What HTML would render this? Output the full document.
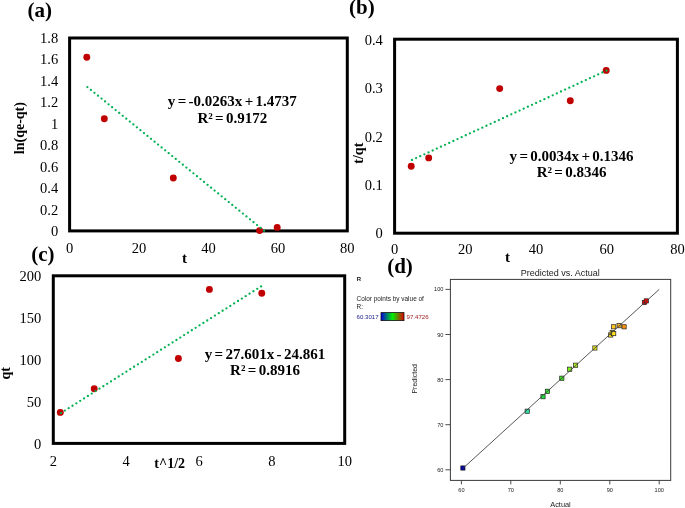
<!DOCTYPE html>
<html><head><meta charset="utf-8"><title>Kinetic plots</title>
<style>
html,body{margin:0;padding:0;background:#fff;}
body{width:685px;height:508px;overflow:hidden;}
svg{display:block;will-change:transform;filter:blur(0.35px);}
.s{font-family:"Liberation Serif","Times New Roman",serif;}
.n{font-family:"Liberation Sans",Arial,sans-serif;}
.b{font-weight:bold;}
.e{word-spacing:-1.4px;}
</style></head><body>
<svg width="685" height="508" viewBox="0 0 685 508">
<rect width="685" height="508" fill="#fff"/>
<!-- chart a -->
<g>
<rect x="69.6" y="38.0" width="277.7" height="192.9" fill="none" stroke="#000" stroke-width="3"/>
<text class="s" x="69.6" y="252.6" font-size="14.5" text-anchor="middle" fill="#000">0</text>
<text class="s" x="139.0" y="252.6" font-size="14.5" text-anchor="middle" fill="#000">20</text>
<text class="s" x="208.5" y="252.6" font-size="14.5" text-anchor="middle" fill="#000">40</text>
<text class="s" x="277.9" y="252.6" font-size="14.5" text-anchor="middle" fill="#000">60</text>
<text class="s" x="347.3" y="252.6" font-size="14.5" text-anchor="middle" fill="#000">80</text>
<text class="s" x="58.2" y="236.2" font-size="14.5" text-anchor="end" fill="#000">0</text>
<text class="s" x="58.2" y="214.7" font-size="14.5" text-anchor="end" fill="#000">0.2</text>
<text class="s" x="58.2" y="193.2" font-size="14.5" text-anchor="end" fill="#000">0.4</text>
<text class="s" x="58.2" y="171.8" font-size="14.5" text-anchor="end" fill="#000">0.6</text>
<text class="s" x="58.2" y="150.3" font-size="14.5" text-anchor="end" fill="#000">0.8</text>
<text class="s" x="58.2" y="128.8" font-size="14.5" text-anchor="end" fill="#000">1</text>
<text class="s" x="58.2" y="107.3" font-size="14.5" text-anchor="end" fill="#000">1.2</text>
<text class="s" x="58.2" y="85.9" font-size="14.5" text-anchor="end" fill="#000">1.4</text>
<text class="s" x="58.2" y="64.4" font-size="14.5" text-anchor="end" fill="#000">1.6</text>
<text class="s" x="58.2" y="42.9" font-size="14.5" text-anchor="end" fill="#000">1.8</text>
<circle cx="86.8" cy="57.2" r="3.45" fill="#c00000"/>
<circle cx="104.3" cy="118.7" r="3.45" fill="#c00000"/>
<circle cx="173.3" cy="178.0" r="3.45" fill="#c00000"/>
<circle cx="259.6" cy="230.6" r="3.45" fill="#c00000"/>
<circle cx="277.2" cy="227.4" r="3.45" fill="#c00000"/>
<g fill="#00b050"><circle cx="87.40" cy="87.10" r="1.15"/><circle cx="90.93" cy="89.97" r="1.15"/><circle cx="94.47" cy="92.85" r="1.15"/><circle cx="98.00" cy="95.72" r="1.15"/><circle cx="101.54" cy="98.60" r="1.15"/><circle cx="105.07" cy="101.47" r="1.15"/><circle cx="108.60" cy="104.34" r="1.15"/><circle cx="112.14" cy="107.22" r="1.15"/><circle cx="115.67" cy="110.09" r="1.15"/><circle cx="119.21" cy="112.97" r="1.15"/><circle cx="122.74" cy="115.84" r="1.15"/><circle cx="126.27" cy="118.71" r="1.15"/><circle cx="129.81" cy="121.59" r="1.15"/><circle cx="133.34" cy="124.46" r="1.15"/><circle cx="136.88" cy="127.34" r="1.15"/><circle cx="140.41" cy="130.21" r="1.15"/><circle cx="143.94" cy="133.08" r="1.15"/><circle cx="147.48" cy="135.96" r="1.15"/><circle cx="151.01" cy="138.83" r="1.15"/><circle cx="154.55" cy="141.71" r="1.15"/><circle cx="158.08" cy="144.58" r="1.15"/><circle cx="161.61" cy="147.45" r="1.15"/><circle cx="165.15" cy="150.33" r="1.15"/><circle cx="168.68" cy="153.20" r="1.15"/><circle cx="172.22" cy="156.08" r="1.15"/><circle cx="175.75" cy="158.95" r="1.15"/><circle cx="179.28" cy="161.82" r="1.15"/><circle cx="182.82" cy="164.70" r="1.15"/><circle cx="186.35" cy="167.57" r="1.15"/><circle cx="189.89" cy="170.45" r="1.15"/><circle cx="193.42" cy="173.32" r="1.15"/><circle cx="196.95" cy="176.19" r="1.15"/><circle cx="200.49" cy="179.07" r="1.15"/><circle cx="204.02" cy="181.94" r="1.15"/><circle cx="207.56" cy="184.82" r="1.15"/><circle cx="211.09" cy="187.69" r="1.15"/><circle cx="214.62" cy="190.56" r="1.15"/><circle cx="218.16" cy="193.44" r="1.15"/><circle cx="221.69" cy="196.31" r="1.15"/><circle cx="225.23" cy="199.19" r="1.15"/><circle cx="228.76" cy="202.06" r="1.15"/><circle cx="232.29" cy="204.93" r="1.15"/><circle cx="235.83" cy="207.81" r="1.15"/><circle cx="239.36" cy="210.68" r="1.15"/><circle cx="242.90" cy="213.56" r="1.15"/><circle cx="246.43" cy="216.43" r="1.15"/><circle cx="249.96" cy="219.30" r="1.15"/><circle cx="253.50" cy="222.18" r="1.15"/><circle cx="257.03" cy="225.05" r="1.15"/><circle cx="260.57" cy="227.93" r="1.15"/><circle cx="264.10" cy="230.80" r="1.15"/></g>
</g>
<!-- chart b -->
<g>
<rect x="394.6" y="39.2" width="282.8" height="194.0" fill="none" stroke="#000" stroke-width="3"/>
<text class="s" x="394.6" y="254.4" font-size="14.5" text-anchor="middle" fill="#000">0</text>
<text class="s" x="465.3" y="254.4" font-size="14.5" text-anchor="middle" fill="#000">20</text>
<text class="s" x="536.0" y="254.4" font-size="14.5" text-anchor="middle" fill="#000">40</text>
<text class="s" x="606.7" y="254.4" font-size="14.5" text-anchor="middle" fill="#000">60</text>
<text class="s" x="677.4" y="254.4" font-size="14.5" text-anchor="middle" fill="#000">80</text>
<text class="s" x="382.8" y="238.4" font-size="14.5" text-anchor="end" fill="#000">0</text>
<text class="s" x="382.8" y="190.0" font-size="14.5" text-anchor="end" fill="#000">0.1</text>
<text class="s" x="382.8" y="141.7" font-size="14.5" text-anchor="end" fill="#000">0.2</text>
<text class="s" x="382.8" y="93.3" font-size="14.5" text-anchor="end" fill="#000">0.3</text>
<text class="s" x="382.8" y="44.9" font-size="14.5" text-anchor="end" fill="#000">0.4</text>
<circle cx="411.2" cy="166.2" r="3.45" fill="#c00000"/>
<circle cx="428.7" cy="157.9" r="3.45" fill="#c00000"/>
<circle cx="499.7" cy="88.6" r="3.45" fill="#c00000"/>
<circle cx="570.3" cy="100.7" r="3.45" fill="#c00000"/>
<circle cx="606.2" cy="70.4" r="3.45" fill="#c00000"/>
<g fill="#00b050"><circle cx="411.96" cy="160.00" r="1.15"/><circle cx="416.10" cy="158.10" r="1.15"/><circle cx="420.24" cy="156.20" r="1.15"/><circle cx="424.38" cy="154.29" r="1.15"/><circle cx="428.52" cy="152.39" r="1.15"/><circle cx="432.66" cy="150.49" r="1.15"/><circle cx="436.79" cy="148.59" r="1.15"/><circle cx="440.93" cy="146.69" r="1.15"/><circle cx="445.07" cy="144.78" r="1.15"/><circle cx="449.21" cy="142.88" r="1.15"/><circle cx="453.35" cy="140.98" r="1.15"/><circle cx="457.49" cy="139.08" r="1.15"/><circle cx="461.63" cy="137.17" r="1.15"/><circle cx="465.77" cy="135.27" r="1.15"/><circle cx="469.91" cy="133.37" r="1.15"/><circle cx="474.05" cy="131.47" r="1.15"/><circle cx="478.19" cy="129.57" r="1.15"/><circle cx="482.33" cy="127.66" r="1.15"/><circle cx="486.46" cy="125.76" r="1.15"/><circle cx="490.60" cy="123.86" r="1.15"/><circle cx="494.74" cy="121.96" r="1.15"/><circle cx="498.88" cy="120.06" r="1.15"/><circle cx="503.02" cy="118.15" r="1.15"/><circle cx="507.16" cy="116.25" r="1.15"/><circle cx="511.30" cy="114.35" r="1.15"/><circle cx="515.44" cy="112.45" r="1.15"/><circle cx="519.58" cy="110.54" r="1.15"/><circle cx="523.72" cy="108.64" r="1.15"/><circle cx="527.86" cy="106.74" r="1.15"/><circle cx="532.00" cy="104.84" r="1.15"/><circle cx="536.13" cy="102.94" r="1.15"/><circle cx="540.27" cy="101.03" r="1.15"/><circle cx="544.41" cy="99.13" r="1.15"/><circle cx="548.55" cy="97.23" r="1.15"/><circle cx="552.69" cy="95.33" r="1.15"/><circle cx="556.83" cy="93.43" r="1.15"/><circle cx="560.97" cy="91.52" r="1.15"/><circle cx="565.11" cy="89.62" r="1.15"/><circle cx="569.25" cy="87.72" r="1.15"/><circle cx="573.39" cy="85.82" r="1.15"/><circle cx="577.53" cy="83.91" r="1.15"/><circle cx="581.67" cy="82.01" r="1.15"/><circle cx="585.80" cy="80.11" r="1.15"/><circle cx="589.94" cy="78.21" r="1.15"/><circle cx="594.08" cy="76.31" r="1.15"/><circle cx="598.22" cy="74.40" r="1.15"/><circle cx="602.36" cy="72.50" r="1.15"/><circle cx="606.50" cy="70.60" r="1.15"/></g>
</g>
<!-- chart c -->
<g>
<rect x="53.3" y="275.8" width="291.4" height="167.6" fill="none" stroke="#000" stroke-width="3"/>
<text class="s" x="53.3" y="465.8" font-size="14.5" text-anchor="middle" fill="#000">2</text>
<text class="s" x="126.1" y="465.8" font-size="14.5" text-anchor="middle" fill="#000">4</text>
<text class="s" x="199.0" y="465.8" font-size="14.5" text-anchor="middle" fill="#000">6</text>
<text class="s" x="271.8" y="465.8" font-size="14.5" text-anchor="middle" fill="#000">8</text>
<text class="s" x="344.7" y="465.8" font-size="14.5" text-anchor="middle" fill="#000">10</text>
<text class="s" x="41.2" y="449.3" font-size="14.5" text-anchor="end" fill="#000">0</text>
<text class="s" x="41.2" y="407.1" font-size="14.5" text-anchor="end" fill="#000">50</text>
<text class="s" x="41.2" y="365.0" font-size="14.5" text-anchor="end" fill="#000">100</text>
<text class="s" x="41.2" y="322.8" font-size="14.5" text-anchor="end" fill="#000">150</text>
<text class="s" x="41.2" y="280.7" font-size="14.5" text-anchor="end" fill="#000">200</text>
<circle cx="60.3" cy="412.4" r="3.45" fill="#c00000"/>
<circle cx="94.2" cy="388.7" r="3.45" fill="#c00000"/>
<circle cx="178.4" cy="358.5" r="3.45" fill="#c00000"/>
<circle cx="209.4" cy="289.4" r="3.45" fill="#c00000"/>
<circle cx="261.8" cy="293.3" r="3.45" fill="#c00000"/>
<g fill="#00b050"><circle cx="60.96" cy="413.04" r="1.15"/><circle cx="64.81" cy="410.60" r="1.15"/><circle cx="68.66" cy="408.17" r="1.15"/><circle cx="72.51" cy="405.73" r="1.15"/><circle cx="76.36" cy="403.30" r="1.15"/><circle cx="80.20" cy="400.86" r="1.15"/><circle cx="84.05" cy="398.43" r="1.15"/><circle cx="87.90" cy="395.99" r="1.15"/><circle cx="91.75" cy="393.56" r="1.15"/><circle cx="95.60" cy="391.12" r="1.15"/><circle cx="99.45" cy="388.69" r="1.15"/><circle cx="103.30" cy="386.25" r="1.15"/><circle cx="107.15" cy="383.82" r="1.15"/><circle cx="111.00" cy="381.38" r="1.15"/><circle cx="114.84" cy="378.94" r="1.15"/><circle cx="118.69" cy="376.51" r="1.15"/><circle cx="122.54" cy="374.07" r="1.15"/><circle cx="126.39" cy="371.64" r="1.15"/><circle cx="130.24" cy="369.20" r="1.15"/><circle cx="134.09" cy="366.77" r="1.15"/><circle cx="137.94" cy="364.33" r="1.15"/><circle cx="141.79" cy="361.90" r="1.15"/><circle cx="145.63" cy="359.46" r="1.15"/><circle cx="149.48" cy="357.03" r="1.15"/><circle cx="153.33" cy="354.59" r="1.15"/><circle cx="157.18" cy="352.16" r="1.15"/><circle cx="161.03" cy="349.72" r="1.15"/><circle cx="164.88" cy="347.28" r="1.15"/><circle cx="168.73" cy="344.85" r="1.15"/><circle cx="172.58" cy="342.41" r="1.15"/><circle cx="176.43" cy="339.98" r="1.15"/><circle cx="180.27" cy="337.54" r="1.15"/><circle cx="184.12" cy="335.11" r="1.15"/><circle cx="187.97" cy="332.67" r="1.15"/><circle cx="191.82" cy="330.24" r="1.15"/><circle cx="195.67" cy="327.80" r="1.15"/><circle cx="199.52" cy="325.37" r="1.15"/><circle cx="203.37" cy="322.93" r="1.15"/><circle cx="207.22" cy="320.50" r="1.15"/><circle cx="211.07" cy="318.06" r="1.15"/><circle cx="214.91" cy="315.62" r="1.15"/><circle cx="218.76" cy="313.19" r="1.15"/><circle cx="222.61" cy="310.75" r="1.15"/><circle cx="226.46" cy="308.32" r="1.15"/><circle cx="230.31" cy="305.88" r="1.15"/><circle cx="234.16" cy="303.45" r="1.15"/><circle cx="238.01" cy="301.01" r="1.15"/><circle cx="241.86" cy="298.58" r="1.15"/><circle cx="245.70" cy="296.14" r="1.15"/><circle cx="249.55" cy="293.71" r="1.15"/><circle cx="253.40" cy="291.27" r="1.15"/><circle cx="257.25" cy="288.84" r="1.15"/><circle cx="261.10" cy="286.40" r="1.15"/></g>
</g>
<text class="s b" x="27.5" y="16.6" font-size="21" text-anchor="start" fill="#000">(a)</text>
<text class="s b" x="349.0" y="14.4" font-size="21" text-anchor="start" fill="#000">(b)</text>
<text class="s b" x="31.2" y="260.8" font-size="21" text-anchor="start" fill="#000">(c)</text>
<text class="s b" x="387.2" y="273.0" font-size="21" text-anchor="start" fill="#000">(d)</text>
<text class="s b e" x="232.3" y="106.4" font-size="15" text-anchor="middle" fill="#000">y = -0.0263x + 1.4737</text>
<text class="s b e" x="232.3" y="122.7" font-size="15" text-anchor="middle" fill="#000">R² = 0.9172</text>
<text class="s b e" x="571.6" y="160.9" font-size="15" text-anchor="middle" fill="#000">y = 0.0034x + 0.1346</text>
<text class="s b e" x="571.6" y="177.2" font-size="15" text-anchor="middle" fill="#000">R² = 0.8346</text>
<text class="s b e" x="265.0" y="359.4" font-size="15" text-anchor="middle" fill="#000">y = 27.601x - 24.861</text>
<text class="s b e" x="265.0" y="375.2" font-size="15" text-anchor="middle" fill="#000">R² = 0.8916</text>
<text class="s b" font-size="14" text-anchor="middle" transform="translate(24.2 128.1) rotate(-90)">ln(qe-qt)</text>
<text class="s b" font-size="14" text-anchor="middle" transform="translate(362.7 153.2) rotate(-90)">t/qt</text>
<text class="s b" font-size="14" text-anchor="middle" transform="translate(10.2 373.3) rotate(-90)">qt</text>
<text class="s b" x="184.5" y="262.7" font-size="15" text-anchor="middle" fill="#000">t</text>
<text class="s b" x="507.4" y="262.2" font-size="15" text-anchor="middle" fill="#000">t</text>
<text class="s b" x="169.7" y="468.4" font-size="14" text-anchor="middle" fill="#000">t^1/2</text>
<!-- chart d -->
<g>
<rect x="450.4" y="279.4" width="220.3" height="201.0" fill="none" stroke="#3a3a3a" stroke-width="1"/>
<line x1="461.4" y1="480.4" x2="461.4" y2="484.4" stroke="#3a3a3a" stroke-width="0.9"/>
<text class="n" x="461.4" y="492.3" font-size="5.6" text-anchor="middle" fill="#222">60</text>
<line x1="445.4" y1="469.8" x2="450.4" y2="469.8" stroke="#3a3a3a" stroke-width="0.9"/>
<text class="n" x="443.4" y="471.8" font-size="5.6" text-anchor="end" fill="#222">60</text>
<line x1="510.8" y1="480.4" x2="510.8" y2="484.4" stroke="#3a3a3a" stroke-width="0.9"/>
<text class="n" x="510.8" y="492.3" font-size="5.6" text-anchor="middle" fill="#222">70</text>
<line x1="445.4" y1="424.7" x2="450.4" y2="424.7" stroke="#3a3a3a" stroke-width="0.9"/>
<text class="n" x="443.4" y="426.7" font-size="5.6" text-anchor="end" fill="#222">70</text>
<line x1="560.3" y1="480.4" x2="560.3" y2="484.4" stroke="#3a3a3a" stroke-width="0.9"/>
<text class="n" x="560.3" y="492.3" font-size="5.6" text-anchor="middle" fill="#222">80</text>
<line x1="445.4" y1="379.6" x2="450.4" y2="379.6" stroke="#3a3a3a" stroke-width="0.9"/>
<text class="n" x="443.4" y="381.6" font-size="5.6" text-anchor="end" fill="#222">80</text>
<line x1="609.8" y1="480.4" x2="609.8" y2="484.4" stroke="#3a3a3a" stroke-width="0.9"/>
<text class="n" x="609.8" y="492.3" font-size="5.6" text-anchor="middle" fill="#222">90</text>
<line x1="445.4" y1="334.5" x2="450.4" y2="334.5" stroke="#3a3a3a" stroke-width="0.9"/>
<text class="n" x="443.4" y="336.5" font-size="5.6" text-anchor="end" fill="#222">90</text>
<line x1="659.2" y1="480.4" x2="659.2" y2="484.4" stroke="#3a3a3a" stroke-width="0.9"/>
<text class="n" x="659.2" y="492.3" font-size="5.6" text-anchor="middle" fill="#222">100</text>
<line x1="445.4" y1="289.4" x2="450.4" y2="289.4" stroke="#3a3a3a" stroke-width="0.9"/>
<text class="n" x="443.4" y="291.4" font-size="5.6" text-anchor="end" fill="#222">100</text>
<rect x="460.8" y="465.9" width="4.2" height="4.2" fill="#0000a8" stroke="#222" stroke-width="0.7"/>
<rect x="525.1" y="409.1" width="4.2" height="4.2" fill="#30e0a0" stroke="#222" stroke-width="0.7"/>
<rect x="540.9" y="394.6" width="4.2" height="4.2" fill="#20e040" stroke="#222" stroke-width="0.7"/>
<rect x="545.3" y="389.2" width="4.2" height="4.2" fill="#30e830" stroke="#222" stroke-width="0.7"/>
<rect x="559.7" y="376.1" width="4.2" height="4.2" fill="#40e020" stroke="#222" stroke-width="0.7"/>
<rect x="567.6" y="367.1" width="4.2" height="4.2" fill="#80f020" stroke="#222" stroke-width="0.7"/>
<rect x="573.5" y="363.1" width="4.2" height="4.2" fill="#b0f020" stroke="#222" stroke-width="0.7"/>
<rect x="592.8" y="345.9" width="4.2" height="4.2" fill="#f0f020" stroke="#222" stroke-width="0.7"/>
<rect x="608.6" y="332.9" width="4.2" height="4.2" fill="#ffe820" stroke="#222" stroke-width="0.7"/>
<rect x="610.1" y="330.6" width="4.2" height="4.2" fill="#ffe820" stroke="#222" stroke-width="0.7"/>
<rect x="611.6" y="331.5" width="4.2" height="4.2" fill="#ffe020" stroke="#222" stroke-width="0.7"/>
<rect x="611.6" y="324.7" width="4.2" height="4.2" fill="#ffc820" stroke="#222" stroke-width="0.7"/>
<rect x="617.0" y="323.6" width="4.2" height="4.2" fill="#f0b020" stroke="#222" stroke-width="0.7"/>
<rect x="622.0" y="324.7" width="4.2" height="4.2" fill="#ff9010" stroke="#222" stroke-width="0.7"/>
<rect x="642.3" y="300.4" width="4.2" height="4.2" fill="#f00000" stroke="#222" stroke-width="0.7"/>
<rect x="644.2" y="298.8" width="4.2" height="4.2" fill="#f40000" stroke="#222" stroke-width="0.7"/>
<line x1="462.9" y1="468.4" x2="659.2" y2="289.4" stroke="#444" stroke-width="0.9"/>
<text class="n" x="560.2" y="275.6" font-size="9" text-anchor="middle" fill="#222">Predicted vs. Actual</text>
<text class="n" x="560.5" y="506.7" font-size="7.4" text-anchor="middle" fill="#222">Actual</text>
<text class="n" font-size="7" fill="#222" text-anchor="middle" transform="translate(416.6 378.8) rotate(-90)">Predicted</text>
<text class="n b" x="356.8" y="281.4" font-size="6" text-anchor="start" fill="#111">R</text>
<text class="n" x="356.6" y="300.6" font-size="6.45" text-anchor="start" fill="#222">Color points by value of</text>
<text class="n" x="356.6" y="309.0" font-size="6.45" text-anchor="start" fill="#222">R:</text>
<text class="n" x="356.6" y="318.7" font-size="6.1" text-anchor="start" fill="#1a1a8a">60.3017</text>
<text class="n" x="406.6" y="318.7" font-size="6.1" text-anchor="start" fill="#a02020">97.4726</text>
<defs><linearGradient id="gr" x1="0" x2="1" y1="0" y2="0"><stop offset="0" stop-color="#0000e0"/><stop offset="0.5" stop-color="#00f000"/><stop offset="1" stop-color="#e00000"/></linearGradient></defs>
<rect x="381" y="312.6" width="23" height="8" fill="url(#gr)" stroke="#111" stroke-width="0.8"/>
</g>
</svg>
</body></html>
